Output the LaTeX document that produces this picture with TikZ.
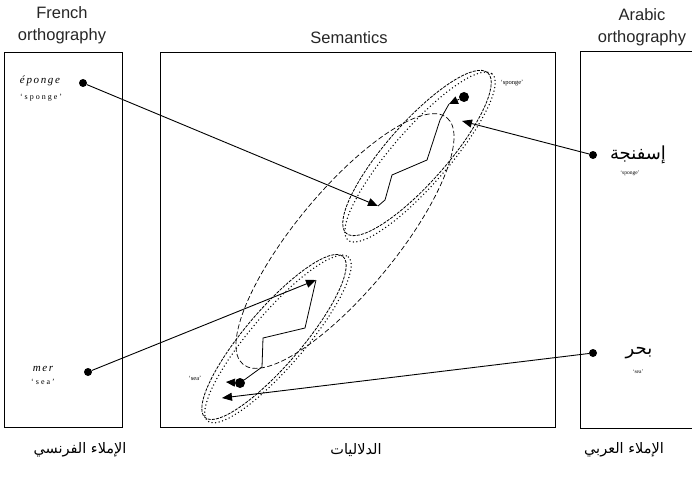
\documentclass[tikz,border=0pt]{standalone}
\usepackage{fontspec}
\setmainfont{Liberation Sans}
\newfontfamily\serifit{Liberation Serif}
\newfontfamily\arabicfont[Script=Arabic]{DejaVu Sans}
\TeXXeTstate=1
\usetikzlibrary{arrows.meta}
\begin{document}
\begin{tikzpicture}[x=1pt,y=-1pt,
  box/.style={draw, line width=1pt, inner sep=0pt},
  head/.style={font=\fontsize{16.5}{22}\selectfont, align=center, inner sep=0pt, text=black!85},
  dotnode/.style={circle, fill, inner sep=0pt, minimum size=8pt},
  word/.style={font=\serifit\itshape\fontsize{11}{12}\selectfont\addfontfeature{LetterSpace=15}, inner sep=0pt},
  gloss/.style={font=\serifit\fontsize{8}{9}\selectfont\addfontfeature{LetterSpace=25}, inner sep=0pt},
  arword/.style={font=\arabicfont\fontsize{18}{20}\selectfont, inner sep=0pt},
  arlabel/.style={font=\arabicfont\fontsize{14.5}{16}\selectfont, inner sep=0pt},
  conn/.style={line width=0.9pt, -{Triangle[length=10pt,width=8pt]}},
  bigell/.style={line width=0.7pt, dash pattern=on 5pt off 2.5pt},
  smell/.style={line width=0.8pt, dash pattern=on 3pt off 1.2pt},
  dotell/.style={line width=1.5pt, dash pattern=on 0pt off 3.6pt, line cap=round},
  zig/.style={line width=0.8pt},
  blob/.style={circle, fill, inner sep=0pt, minimum size=10pt}
]
\useasboundingbox (0,0) rectangle (692,492);

% boxes
\node[box, minimum width=118pt, minimum height=375pt] (lbox) at (63,240) {};
\node[box, minimum width=395pt, minimum height=375pt] (mbox) at (357.5,240) {};
\draw[line width=1pt] (692,52) -- (580,52) -- (580,428) -- (692,428);

% headings
\node[head] (hfr) at (62,25) {French\\orthography};
\node[head] (hsem) at (349,38) {Semantics};
\node[head] (har) at (642,27) {Arabic\\orthography};

% French words
\node[word] (wep) at (40,81) {éponge};
\node[gloss] (gep) at (41,98) {‘sponge’};
\node[word] (wmer) at (43,369) {mer};
\node[gloss] (gmer) at (43,382) {‘sea’};

% Arabic words
\node[arword] (wisf) at (638,155) {\beginR إسفنجة\endR};
\node[gloss, font=\serifit\fontsize{5.5}{6}\selectfont] (gisf) at (630,173) {‘sponge’};
\node[arword] (wbahr) at (639,353) {\beginR بحر\endR};
\node[gloss, font=\serifit\fontsize{5.5}{6}\selectfont] (gbahr) at (638,372) {‘sea’};

% dots
\node[dotnode] (dep) at (83,83) {};
\node[dotnode] (dmer) at (88,372) {};
\node[dotnode] (disf) at (593,155) {};
\node[dotnode] (dbahr) at (593,353) {};

% ellipses
\coordinate (cbig) at (345,241);
\draw[bigell, rotate around={50.4:(cbig)}] (cbig) ellipse (160 and 50);
\coordinate (cup) at (417,153);
\draw[smell, rotate around={48.6:(cup)}] (cup) ellipse (107 and 30);
\coordinate (cupd) at (420,157);
\draw[dotell, rotate around={49:(cupd)}] (cupd) ellipse (110 and 28);
\coordinate (clo) at (274,337);
\draw[smell, rotate around={49.4:(clo)}] (clo) ellipse (106 and 28);
\coordinate (clod) at (278,339);
\draw[dotell, rotate around={49.4:(clod)}] (clod) ellipse (108 and 27);

% semantic points
\coordinate (t1) at (378,206);
\coordinate (t2) at (462,121);
\coordinate (t3) at (316,280);
\coordinate (t4) at (222,398);

% dumbbells
\node[blob] (bup) at (464,97) {};
\coordinate (bupt) at (449,104);
\draw[zig, -{Triangle[length=9pt,width=8pt]}] (bup) -- (bupt);
\node[blob] (blo) at (240,383) {};
\coordinate (blot) at (226,382);
\draw[zig, -{Triangle[length=9pt,width=8pt]}] (blo) -- (blot);

% zigzags
\draw[zig] (t1) -- (385,200) -- (392,175) -- (427,160) -- (440,120) -- (bupt);
\draw[zig] (t3) -- (305,328) -- (263,338) -- (262,367) -- (blo);

% connectors
\draw[conn] (dep) -- (t1);
\draw[conn] (disf) -- (t2);
\draw[conn] (dmer) -- (t3);
\draw[conn] (dbahr) -- (t4);

% sense labels
\node[gloss, font=\serifit\fontsize{6.5}{7}\selectfont] (lsp) at (512,83) {‘sponge’};
\node[gloss, font=\serifit\fontsize{6.5}{7}\selectfont] (lsea) at (195,378) {‘sea’};

% bottom Arabic labels
\node[arlabel] (afr) at (80,450) {\beginR الإملاء الفرنسي\endR};
\node[arlabel] (asem) at (356,450) {\beginR الدلاليات\endR};
\node[arlabel] (aar) at (624,450) {\beginR الإملاء العربي\endR};
\end{tikzpicture}
\end{document}
